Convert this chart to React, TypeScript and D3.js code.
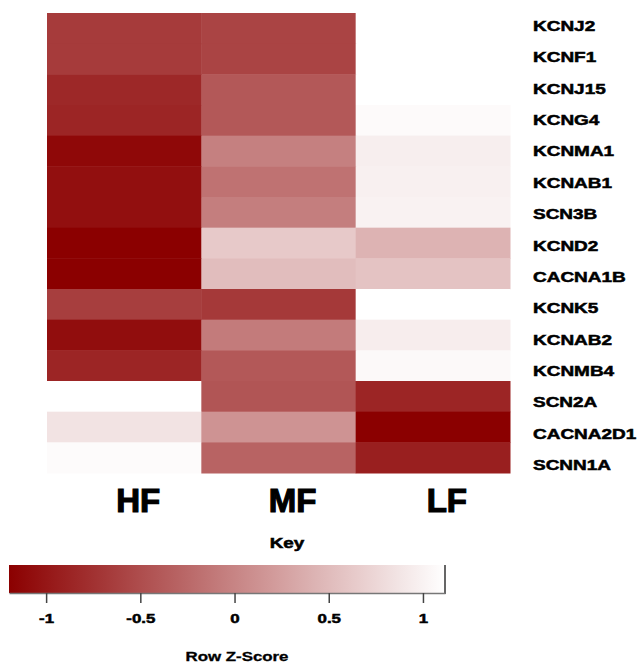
import React, { useEffect, useRef } from 'react';
import * as d3 from 'd3';

// genes (rows) and conditions (columns)
const genes = ['KCNJ2', 'KCNF1', 'KCNJ15', 'KCNG4', 'KCNMA1', 'KCNAB1', 'SCN3B', 'KCND2', 'CACNA1B', 'KCNK5', 'KCNAB2', 'KCNMB4', 'SCN2A', 'CACNA2D1', 'SCNN1A'];
const conditions = ['HF', 'MF', 'LF'];

// row z-scores per column
const hfValues = [-0.66, -0.66, -0.83, -0.86, -1.12, -1.06, -1.06, -1.2, -1.2, -0.63, -1.08, -0.86, 1.12, 0.86, 1.08];
const mfValues = [-0.58, -0.58, -0.4, -0.4, -0.04, -0.16, -0.05, 0.63, 0.52, -0.68, -0.08, -0.4, -0.43, 0.14, -0.3];
const lfValues = [1.12, 1.12, 1.12, 1.07, 0.96, 0.98, 1.0, 0.43, 0.57, 1.12, 0.95, 1.06, -0.86, -1.2, -0.92];

const keyTicks = [-1, -0.5, 0, 0.5, 1];
const keyDomain = [-1.197, 1.117];

const App = () => {
  const svgRef = useRef(null);
  const width = 638;
  const height = 663;

  useEffect(() => {
    const svg = d3.select(svgRef.current);
    svg.selectAll('*').remove();

    const font = 'Liberation Sans, Arial, sans-serif';
    const color = d3.scaleLinear<string>().domain(keyDomain).range(['#8b0000', '#ffffff']);

    const columns = [hfValues, mfValues, lfValues];
    const cells = [];
    genes.forEach((g, i) => {
      conditions.forEach((c, j) => cells.push({ gene: g, cond: c, value: columns[j][i] }));
    });

    // heavy bold text, like the blurry original
    const heavy = sel => sel
      .style('font-family', font)
      .style('font-weight', 'bold')
      .attr('fill', '#000')
      .attr('stroke', '#000')
      .attr('stroke-width', 0.5);

    // heatmap
    const x = d3.scaleBand().domain(conditions).range([47, 510]);
    const y = d3.scaleBand().domain(genes).range([13, 473]);

    svg.append('g')
      .selectAll('rect')
      .data(cells)
      .join('rect')
      .attr('x', d => x(d.cond))
      .attr('y', d => y(d.gene))
      .attr('width', x.bandwidth() + 0.5)
      .attr('height', y.bandwidth() + 0.5)
      .attr('fill', d => color(d.value));

    // gene labels (slightly looser spacing than the rows, stretched text)
    const labelY = d3.scalePoint().domain(genes).range([26, 465]);
    svg.append('g')
      .selectAll('text')
      .data(genes)
      .join('text')
      .attr('transform', d => `translate(533, ${labelY(d) + 5}) scale(1.31, 1)`)
      .style('font-size', '14.5px')
      .call(heavy)
      .text(d => d);

    // column labels
    svg.append('g')
      .selectAll('text')
      .data(conditions)
      .join('text')
      .attr('x', d => x(d) + x.bandwidth() / 2 + 14)
      .attr('y', 512)
      .attr('text-anchor', 'middle')
      .style('font-size', '33px')
      .call(heavy)
      .attr('stroke-width', 1.2)
      .text(d => d);

    // colour key
    svg.append('text')
      .attr('transform', 'translate(287, 548) scale(1.35, 1)')
      .attr('text-anchor', 'middle')
      .style('font-size', '14px')
      .call(heavy)
      .text('Key');

    const kx = d3.scaleLinear().domain(keyDomain).range([9, 445]);
    const grad = svg.append('defs').append('linearGradient')
      .attr('id', 'keygrad')
      .attr('x1', '0%').attr('x2', '100%');
    d3.range(0, 1.0001, 0.1).forEach(t => {
      const v = keyDomain[0] + t * (keyDomain[1] - keyDomain[0]);
      grad.append('stop').attr('offset', `${t * 100}%`).attr('stop-color', color(v));
    });

    svg.append('rect')
      .attr('x', kx(keyDomain[0]))
      .attr('y', 565)
      .attr('width', kx(keyDomain[1]) - kx(keyDomain[0]))
      .attr('height', 28)
      .attr('fill', 'url(#keygrad)');

    svg.append('line')
      .attr('x1', kx(keyDomain[1])).attr('x2', kx(keyDomain[1]))
      .attr('y1', 565).attr('y2', 594)
      .attr('stroke', '#333')
      .attr('stroke-width', 1.5);

    const axis = svg.append('g')
      .attr('transform', 'translate(0, 593)')
      .call(d3.axisBottom(kx).tickValues(keyTicks).tickSize(10).tickSizeOuter(0).tickFormat(d => String(d)));
    axis.select('.domain').attr('stroke', '#777').attr('stroke-width', 1.5);
    axis.selectAll('.tick line').attr('stroke', '#444').attr('stroke-width', 1.5);
    axis.selectAll('.tick text')
      .attr('y', 0)
      .attr('dy', 0)
      .attr('transform', 'translate(0, 30) scale(1.3, 1)')
      .style('font-size', '13px')
      .call(heavy);

    svg.append('text')
      .attr('transform', 'translate(237, 661) scale(1.35, 1)')
      .attr('text-anchor', 'middle')
      .style('font-size', '12.5px')
      .call(heavy)
      .attr('stroke-width', 0.3)
      .text('Row Z-Score');
  }, []);

  return (
    <svg ref={svgRef} width={width} height={height}
      style={{ position: 'absolute', left: 0, top: 0, background: '#fff' }} />
  );
};

export default App;
